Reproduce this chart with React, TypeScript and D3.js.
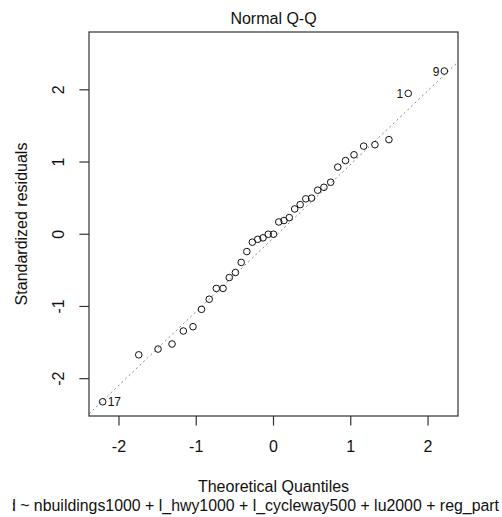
import * as d3 from "d3";
import { useEffect, useRef } from "react";

//theoretical quantiles of the 37 residuals (x axis)
const theoretical = [
  -2.211, -1.744, -1.494, -1.313, -1.167, -1.042, -0.932, -0.832, -0.74, -0.653,
  -0.572, -0.493, -0.418, -0.345, -0.274, -0.204, -0.136, -0.068, 0, 0.068,
  0.136, 0.204, 0.274, 0.345, 0.418, 0.493, 0.572, 0.653, 0.74, 0.832,
  0.932, 1.042, 1.167, 1.313, 1.494, 1.744, 2.211,
];

//standardized residuals, sorted (y axis)
const residuals = [
  -2.32, -1.67, -1.59, -1.52, -1.34, -1.28, -1.04, -0.9, -0.75, -0.75,
  -0.6, -0.53, -0.39, -0.24, -0.11, -0.07, -0.05, 0.0, 0.0, 0.17,
  0.19, 0.23, 0.35, 0.41, 0.49, 0.5, 0.61, 0.65, 0.72, 0.93,
  1.02, 1.1, 1.22, 1.24, 1.31, 1.95, 2.26,
];

//labelled points: position in sorted data and observation number
const idIndex = [0, 35, 36];
const idLabels = ["17", "1", "9"];

//qq line through the quartiles
const lineIntercept = -0.05;
const lineSlope = 1.02;

const xTicks = [-2, -1, 0, 1, 2];
const yTicks = [-2, -1, 0, 1, 2];

const title = "Normal Q-Q";
const xLabel = "Theoretical Quantiles";
const yLabel = "Standardized residuals";
const subCaption = "d ~ nbuildings1000 + l_hwy1000 + l_cycleway500 + lu2000 + reg_part";

const W = 502;
const H = 517;
const box = { left: 89, right: 458, top: 32, bottom: 416 };
const font = "'Liberation Sans', Arial, sans-serif";

const App = () => {
  const svgRef = useRef<SVGSVGElement>(null);

  useEffect(() => {
    const svg = d3.select(svgRef.current);
    svg.selectAll("*").remove();

    //limits like R: data range, room for labels on top, then 4% each side
    const xr = d3.extent(theoretical) as [number, number];
    const yr = d3.extent(residuals) as [number, number];
    const yTop = yr[1] + (yr[1] - yr[0]) * 0.075;
    const dx = (xr[1] - xr[0]) * 0.04;
    const dy = (yTop - yr[0]) * 0.04;

    const x = d3.scaleLinear().domain([xr[0] - dx, xr[1] + dx]).range([box.left, box.right]);
    const y = d3.scaleLinear().domain([yr[0] - dy, yTop + dy]).range([box.bottom, box.top]);

    svg.append("rect").attr("width", W).attr("height", H).attr("fill", "#fff");

    //clip for the plot area
    svg.append("clipPath").attr("id", "plotClip")
      .append("rect")
      .attr("x", box.left).attr("y", box.top)
      .attr("width", box.right - box.left).attr("height", box.bottom - box.top);

    //qq line
    const [d0, d1] = x.domain();
    svg.append("line")
      .attr("clip-path", "url(#plotClip)")
      .attr("x1", x(d0)).attr("y1", y(lineIntercept + lineSlope * d0))
      .attr("x2", x(d1)).attr("y2", y(lineIntercept + lineSlope * d1))
      .attr("stroke", "#8a8a8a")
      .attr("stroke-width", 1)
      .attr("stroke-dasharray", "2,3");

    //points
    svg.selectAll(".pt")
      .data(theoretical)
      .enter()
      .append("circle")
      .attr("class", "pt")
      .attr("cx", (d) => x(d))
      .attr("cy", (d, i) => y(residuals[i]))
      .attr("r", 3.3)
      .attr("fill", "none")
      .attr("stroke", "#111")
      .attr("stroke-width", 1);

    //id labels: lowest to the right, others to the left
    idIndex.forEach((k, j) => {
      const px = x(theoretical[k]);
      const py = y(residuals[k]);
      const right = k === 0;
      svg.append("text")
        .attr("x", right ? px + 5 : px - 5)
        .attr("y", py + 4.5)
        .attr("text-anchor", right ? "start" : "end")
        .style("font-family", font)
        .style("font-size", "12px")
        .style("fill", "#111")
        .text(idLabels[j]);
    });

    //frame
    svg.append("rect")
      .attr("x", box.left).attr("y", box.top)
      .attr("width", box.right - box.left).attr("height", box.bottom - box.top)
      .attr("fill", "none")
      .attr("stroke", "#333")
      .attr("stroke-width", 1.2);

    //x axis
    const gx = svg.append("g").attr("transform", `translate(0,${box.bottom})`);
    gx.selectAll("line")
      .data(xTicks)
      .enter()
      .append("line")
      .attr("x1", (d) => x(d)).attr("x2", (d) => x(d))
      .attr("y1", 0).attr("y2", 9.6)
      .attr("stroke", "#333").attr("stroke-width", 1.2);
    gx.selectAll("text")
      .data(xTicks)
      .enter()
      .append("text")
      .attr("x", (d) => x(d))
      .attr("y", 35.5)
      .attr("text-anchor", "middle")
      .style("font-family", font)
      .style("font-size", "16px")
      .style("fill", "#111")
      .text((d) => String(d));

    //y axis
    const gy = svg.append("g").attr("transform", `translate(${box.left},0)`);
    gy.selectAll("line")
      .data(yTicks)
      .enter()
      .append("line")
      .attr("x1", 0).attr("x2", -9.6)
      .attr("y1", (d) => y(d)).attr("y2", (d) => y(d))
      .attr("stroke", "#333").attr("stroke-width", 1.2);
    gy.selectAll("text")
      .data(yTicks)
      .enter()
      .append("text")
      .attr("transform", (d) => `translate(-25.5,${y(d)}) rotate(-90)`)
      .attr("text-anchor", "middle")
      .style("font-family", font)
      .style("font-size", "16px")
      .style("fill", "#111")
      .text((d) => String(d));

    const cx = (box.left + box.right) / 2;

    //title
    svg.append("text")
      .attr("x", cx).attr("y", 24)
      .attr("text-anchor", "middle")
      .style("font-family", font).style("font-size", "16px").style("fill", "#111")
      .text(title);

    //x label
    svg.append("text")
      .attr("x", cx).attr("y", 491.5)
      .attr("text-anchor", "middle")
      .style("font-family", font).style("font-size", "16px").style("fill", "#111")
      .text(xLabel);

    //y label
    svg.append("text")
      .attr("transform", `translate(27,${(box.top + box.bottom) / 2}) rotate(-90)`)
      .attr("text-anchor", "middle")
      .style("font-family", font).style("font-size", "16px").style("fill", "#111")
      .text(yLabel);

    //sub caption: "~" starts near x=20, "reg_part" ends near x=499,
    //the leading letter is cut so that only its stem shows
    const cap = svg.append("text")
      .attr("x", 499).attr("y", 510.5)
      .attr("text-anchor", "end")
      .style("font-family", font).style("font-size", "16px").style("fill", "#111")
      .text(subCaption);
    const node = cap.node() as SVGTextElement;
    const n = subCaption.length;
    const tail = node.getSubStringLength(2, n - 2);
    const fs = 16 * (499 - 20) / tail;
    cap.style("font-size", `${fs}px`);
    const dEnd = node.getEndPositionOfChar(0).x;
    svg.append("clipPath").attr("id", "capClip")
      .append("rect").attr("x", dEnd - 3).attr("y", 490).attr("width", W).attr("height", 27);
    cap.attr("clip-path", "url(#capClip)");
  }, []);

  return (
    <svg
      ref={svgRef}
      width={W}
      height={H}
      style={{ position: "absolute", left: 0, top: 0, display: "block" }}
    />
  );
};

export default App;
